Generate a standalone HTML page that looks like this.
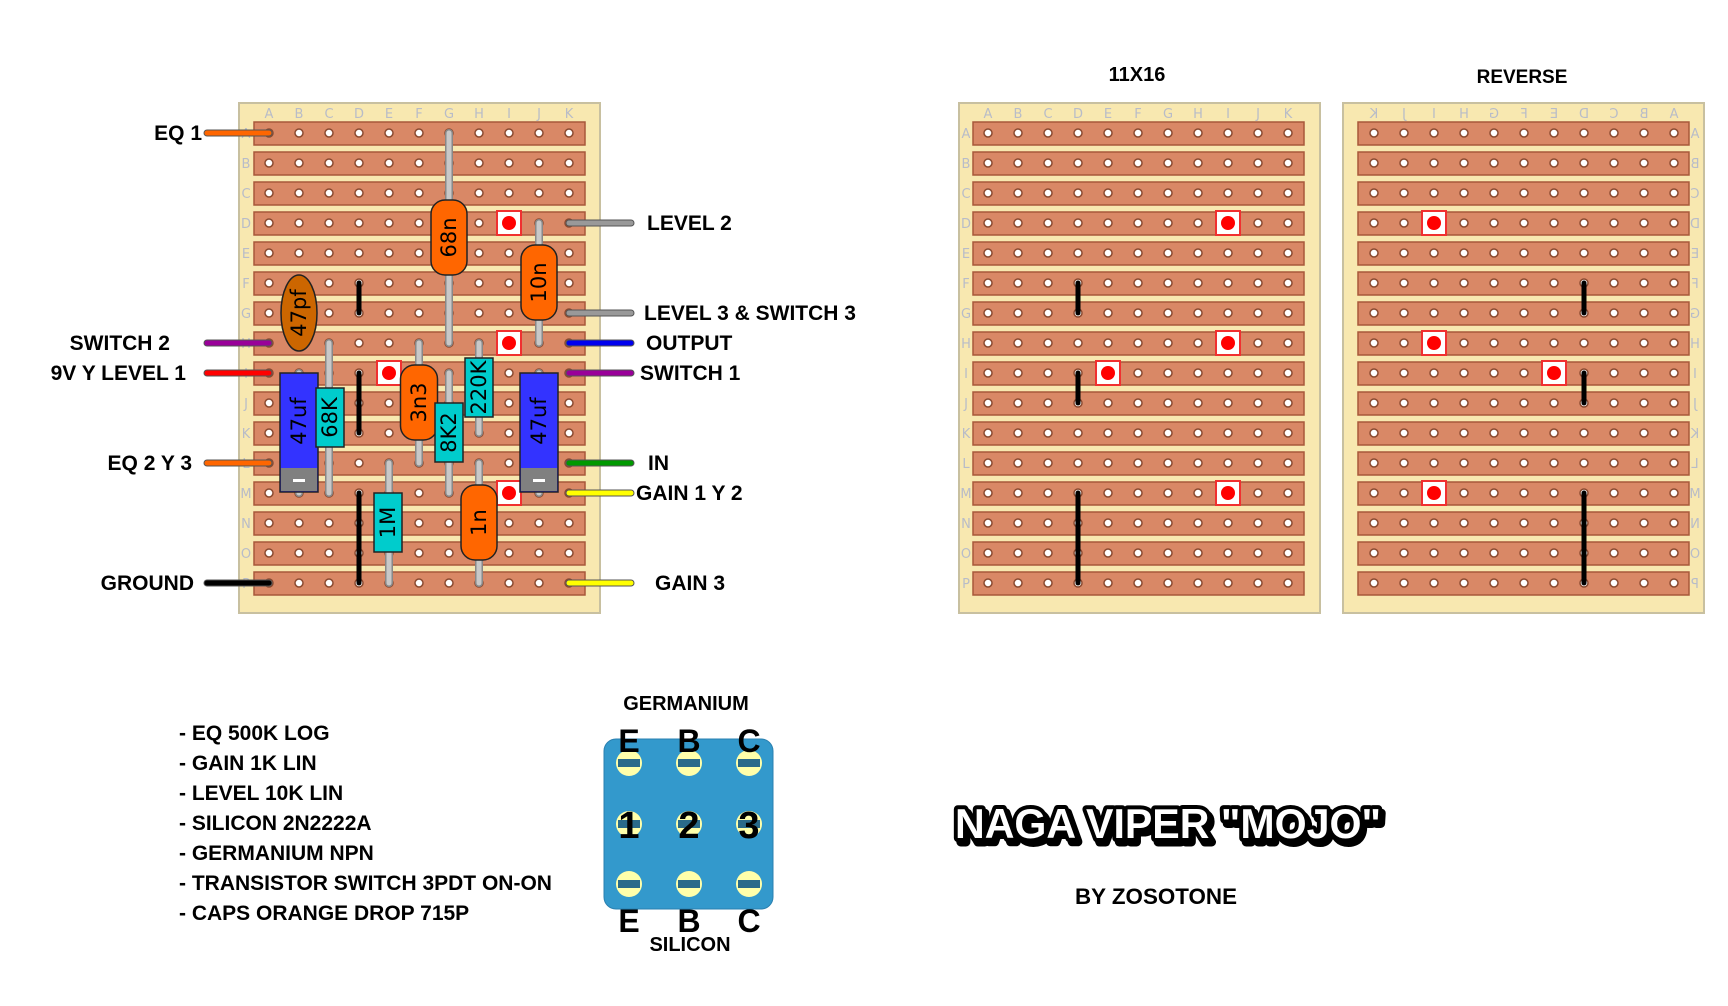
<!DOCTYPE html>
<html><head><meta charset="utf-8"><style>
html,body{margin:0;padding:0;background:#fff;width:1728px;height:1006px;overflow:hidden}
svg{display:block}
.lb{font-family:"Liberation Sans",Arial,sans-serif;font-weight:bold;fill:#000}
.gl{font-family:"DejaVu Sans","Liberation Sans",sans-serif;font-size:13px;fill:#b8bcc8}
.ct{font-family:"DejaVu Sans","Liberation Sans",sans-serif;font-size:21px;fill:#000}
</style></head><body>
<svg id="s" width="1728" height="1006" viewBox="0 0 1728 1006" xmlns="http://www.w3.org/2000/svg">
<text class="lb" x="1137" y="81" text-anchor="middle" font-size="20">11X16</text>
<text class="lb" x="1522" y="83" text-anchor="middle" font-size="19">REVERSE</text>
<g id="g"></g>
<g class="lb" font-size="21">
<text x="179" y="740">- EQ 500K LOG</text>
<text x="179" y="770">- GAIN 1K LIN</text>
<text x="179" y="800">- LEVEL 10K LIN</text>
<text x="179" y="830">- SILICON 2N2222A</text>
<text x="179" y="860">- GERMANIUM NPN</text>
<text x="179" y="890">- TRANSISTOR SWITCH 3PDT ON-ON</text>
<text x="179" y="920">- CAPS ORANGE DROP 715P</text>
</g>
<text class="lb" x="686" y="710" text-anchor="middle" font-size="20">GERMANIUM</text>
<text class="lb" x="690" y="951" text-anchor="middle" font-size="20">SILICON</text>
<rect x="604" y="739" width="169" height="170" rx="12" fill="#3399cc" stroke="#2a80b0"/>
<g id="tr"></g>
<text x="955" y="838" font-family="'Liberation Sans',sans-serif" font-weight="bold" font-size="42" fill="#000" stroke="#000" stroke-width="9" stroke-linejoin="round" textLength="426" lengthAdjust="spacingAndGlyphs" transform="translate(3,4)">NAGA VIPER "MOJO"</text>
<text x="955" y="838" font-family="'Liberation Sans',sans-serif" font-weight="bold" font-size="42" fill="#fff" stroke="#000" stroke-width="8" stroke-linejoin="round" paint-order="stroke" textLength="426" lengthAdjust="spacingAndGlyphs">NAGA VIPER "MOJO"</text>
<text x="1075" y="904" font-family="'Liberation Sans',sans-serif" font-weight="bold" font-size="22" fill="#000" textLength="162" lengthAdjust="spacingAndGlyphs">BY ZOSOTONE</text>
</svg>
<script>
const NS="http://www.w3.org/2000/svg";
const G=document.getElementById('g');
function el(t,a,p,txt){const e=document.createElementNS(NS,t);for(const k in a)e.setAttribute(k,a[k]);if(txt!==undefined)e.textContent=txt;(p||G).appendChild(e);return e;}
const L="ABCDEFGHIJK",R="ABCDEFGHIJKLMNOP";
function board(ox,sx,dir,mirror){
  el('rect',{x:ox,y:103,width:361,height:510,fill:'#f8e8b0',stroke:'#c8c0a0','stroke-width':2});
  for(let r=0;r<16;r++){
    el('rect',{x:sx,y:122+30*r,width:331,height:23,fill:'#d98866',stroke:'#a8583a','stroke-width':1.5});
  }
  const ax=dir>0?sx+15:sx+316;
  for(let c=0;c<11;c++){
    const x=ax+dir*30*c;
    if(mirror) el('text',{class:'gl',x:0,y:118,'text-anchor':'middle',transform:`translate(${x},0) scale(-1,1)`},undefined,L[c]);
    else el('text',{class:'gl',x:x,y:118,'text-anchor':'middle'},undefined,L[c]);
    for(let r=0;r<16;r++) el('circle',{cx:x,cy:133+30*r,r:4,fill:'#fff',stroke:'#8a4a30','stroke-width':1.5});
  }
  for(let r=0;r<16;r++){
    const lx=mirror?ox+352:ox+7;
    if(mirror) el('text',{class:'gl',x:0,y:138+30*r,'text-anchor':'middle',transform:`translate(${lx},0) scale(-1,1)`},undefined,R[r]);
    else el('text',{class:'gl',x:lx,y:138+30*r,'text-anchor':'middle'},undefined,R[r]);
  }
  return c=>ax+dir*30*c;
}
const ry=r=>133+30*r;
function cut(x,r){el('rect',{x:x-12,y:ry(r)-12,width:24,height:24,fill:'#fff',stroke:'#f03030','stroke-width':2});el('circle',{cx:x,cy:ry(r),r:7,fill:'#f00'});}
function link(x,r1,r2){el('line',{x1:x,y1:ry(r1),x2:x,y2:ry(r2),stroke:'#000','stroke-width':5,'stroke-linecap':'round'});}
function lead(x,r1,r2){el('line',{x1:x,y1:ry(r1),x2:x,y2:ry(r2),stroke:'#888','stroke-width':8,'stroke-linecap':'round'});el('line',{x1:x,y1:ry(r1),x2:x,y2:ry(r2),stroke:'#c8c8c8','stroke-width':5,'stroke-linecap':'round'});}
function body(x,y1,y2,w,fill,txt,rx,tc){
  el('rect',{x:x-w/2,y:y1,width:w,height:y2-y1,rx:rx,fill:fill,stroke:'#222','stroke-width':1.5});
  const cy=(y1+y2)/2;
  el('text',{class:'ct',x:x,y:cy,'text-anchor':'middle','dominant-baseline':'central',transform:`rotate(-90 ${x} ${cy})`,fill:tc||'#000'},undefined,txt);
}
function wire(x1,x2,r,col){el('line',{x1,y1:ry(r),x2,y2:ry(r),stroke:'#555','stroke-width':7,'stroke-linecap':'round'});el('line',{x1,y1:ry(r),x2,y2:ry(r),stroke:col,'stroke-width':5,'stroke-linecap':'round'});}

const m=board(239,254,1,false);
cut(m(8),3);cut(m(8),7);cut(m(8),12);cut(m(4),8);
link(m(3),5,6);link(m(3),8,10);link(m(3),12,15);
lead(m(6),0,7);lead(m(9),3,7);lead(m(1),8,12);lead(m(2),7,12);lead(m(5),7,11);lead(m(6),8,12);lead(m(7),7,10);lead(m(9),8,12);lead(m(4),11,15);lead(m(7),11,15);
body(m(6),200,275,36,'#ff6600','68n',14);
body(m(9),245,320,36,'#ff6600','10n',14);
el('ellipse',{cx:m(1),cy:313,rx:18,ry:38,fill:'#cc6600',stroke:'#222','stroke-width':1.5});
el('text',{class:'ct',x:m(1),y:313,'text-anchor':'middle','dominant-baseline':'central',transform:`rotate(-90 ${m(1)} 313)`},undefined,'47pf');
function ecap(x){el('rect',{x:x-19,y:373,width:38,height:119,fill:'#3333ff',stroke:'#222','stroke-width':1.5});el('rect',{x:x-18,y:468,width:36,height:23,fill:'#808080'});el('rect',{x:x-6,y:479,width:12,height:3,fill:'#fff'});el('text',{class:'ct',x:x,y:421,'text-anchor':'middle','dominant-baseline':'central',transform:`rotate(-90 ${x} 421)`,fill:'#fff'},undefined,'47uf');}
ecap(m(1));ecap(m(9));
body(m(2)+1,388,447,28,'#00cccc','68K',0);
body(m(5),365,440,37,'#ff6600','3n3',14);
body(m(6),403,462,28,'#00cccc','8K2',0);
body(m(7),358,417,28,'#00cccc','220K',0);
body(m(4)-1,493,552,28,'#00cccc','1M',0);
body(m(7),485,560,36,'#ff6600','1n',14);
wire(207,269,0,'#ff6600');wire(207,269,7,'#990099');wire(207,269,8,'#ff0000');wire(207,269,11,'#ff6600');wire(207,269,15,'#000');
wire(569,631,3,'#999');wire(569,631,6,'#999');wire(569,631,7,'#0000ee');wire(569,631,8,'#990099');wire(569,631,11,'#009900');wire(569,631,12,'#ffff00');wire(569,631,15,'#ffff00');
const lt=[[202,0,'EQ 1'],[170,7,'SWITCH 2'],[186,8,'9V Y LEVEL 1'],[192,11,'EQ 2 Y 3'],[194,15,'GROUND']];
lt.forEach(a=>el('text',{class:'lb',x:a[0],y:ry(a[1])+7,'text-anchor':'end',style:'font-size:21px'},undefined,a[2]));
const rt=[[647,3,'LEVEL 2'],[644,6,'LEVEL 3 & SWITCH 3'],[646,7,'OUTPUT'],[640,8,'SWITCH 1'],[648,11,'IN'],[636,12,'GAIN 1 Y 2'],[655,15,'GAIN 3']];
rt.forEach(a=>el('text',{class:'lb',x:a[0],y:ry(a[1])+7,style:'font-size:21px'},undefined,a[2]));

const b=board(959,973,1,false);
cut(b(8),3);cut(b(8),7);cut(b(8),12);cut(b(4),8);
link(b(3),5,6);link(b(3),8,9);link(b(3),12,15);
const c=board(1343,1358,-1,true);
cut(c(8),3);cut(c(8),7);cut(c(8),12);cut(c(4),8);
link(c(3),5,6);link(c(3),8,9);link(c(3),12,15);

const T=document.getElementById('tr');
const px=[629,689,749],py=[763,824,884];
py.forEach(y=>px.forEach(x=>{el('ellipse',{cx:x,cy:y,rx:13,ry:13,fill:'#ffffaa'},T);el('rect',{x:x-11,y:y-4,width:22,height:8,fill:'#2a6a8a'},T);}));
['1','2','3'].forEach((t,i)=>el('text',{class:'lb',x:px[i],y:838,'text-anchor':'middle',style:'font-size:38px'},T,t));
['E','B','C'].forEach((t,i)=>{el('text',{class:'lb',x:px[i],y:752,'text-anchor':'middle',style:'font-size:32px'},T,t);el('text',{class:'lb',x:px[i],y:932,'text-anchor':'middle',style:'font-size:32px'},T,t);});
</script>
</body></html>
